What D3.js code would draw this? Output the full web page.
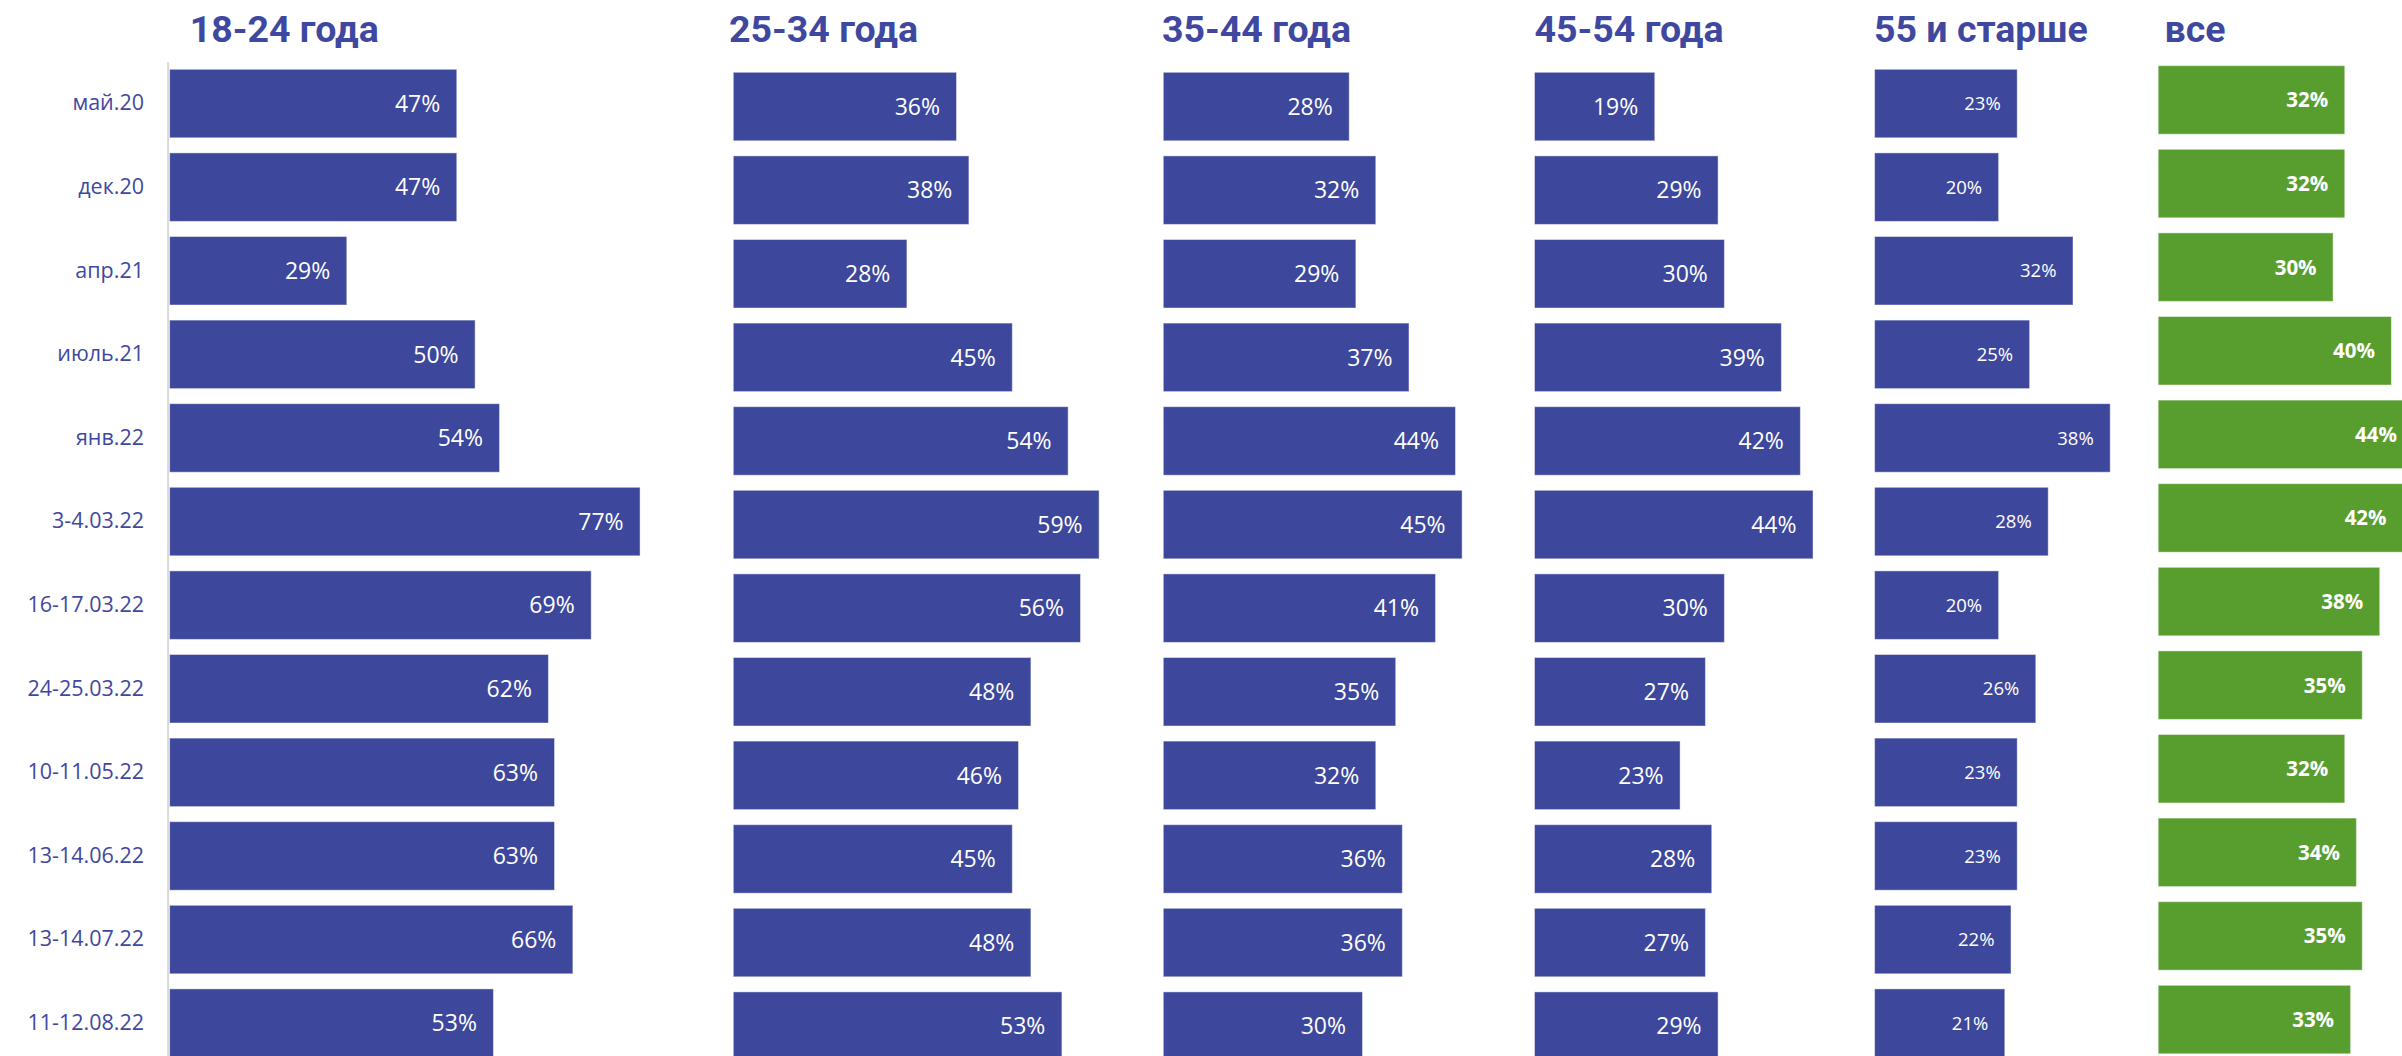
<!DOCTYPE html>
<html>
<head>
<meta charset="utf-8">
<script src="https://cdn.jsdelivr.net/npm/d3@7"></script>
<style>
  html, body { margin: 0; padding: 0; background: #ffffff; }
  svg { display: block; }
</style>
</head>
<body>
<svg id="chart" width="2402" height="1056"></svg>
<script>
// ---- DATA ----
const categories = ["май.20", "дек.20", "апр.21", "июль.21", "янв.22", "3-4.03.22",
  "16-17.03.22", "24-25.03.22", "10-11.05.22", "13-14.06.22", "13-14.07.22", "11-12.08.22"];
const groupTitles = ["18-24 года", "25-34 года", "35-44 года", "45-54 года", "55 и старше", "все"];
const age18_24 = [47, 47, 29, 50, 54, 77, 69, 62, 63, 63, 66, 53];
const age25_34 = [36, 38, 28, 45, 54, 59, 56, 48, 46, 45, 48, 53];
const age35_44 = [28, 32, 29, 37, 44, 45, 41, 35, 32, 36, 36, 30];
const age45_54 = [19, 29, 30, 39, 42, 44, 30, 27, 23, 28, 27, 29];
const age55plus = [23, 20, 32, 25, 38, 28, 20, 26, 23, 23, 22, 21];
const allAges = [32, 32, 30, 40, 44, 42, 38, 35, 32, 34, 35, 33];
const seriesValues = [age18_24, age25_34, age35_44, age45_54, age55plus, allAges];

// ---- LAYOUT (positions / sizes / styles) ----
const W = 2402, H = 1056;
const BLUE = "#3D479C", GREEN = "#589E2E";
const panels = [
  { left: 169.6, pxPerPct: 6.11, top: 69.3, titleX: 189.7, color: BLUE, fontSize: 23, bold: false },
  { left: 733.3, pxPerPct: 6.20, top: 72.3, titleX: 729,   color: BLUE, fontSize: 23, bold: false },
  { left: 1163.3, pxPerPct: 6.64, top: 72.3, titleX: 1162, color: BLUE, fontSize: 23, bold: false },
  { left: 1534.5, pxPerPct: 6.33, top: 72.3, titleX: 1534.5, color: BLUE, fontSize: 23, bold: false },
  { left: 1874.6, pxPerPct: 6.20, top: 69.3, titleX: 1874, color: BLUE, fontSize: 18.5, bold: false },
  { left: 2158.2, pxPerPct: 5.83, top: 65.7, titleX: 2164.5, color: GREEN, fontSize: 20.5, bold: true }
];
const pitch = 83.6, barH = 68.5;

const svg = d3.select("#chart");
svg.append("defs").append("clipPath").attr("id", "clipAll")
  .append("rect").attr("x", 0).attr("y", 0).attr("width", W).attr("height", H);

// Titles
panels.forEach((p, i) => {
  svg.append("text")
    .attr("x", p.titleX).attr("y", 41.7)
    .attr("font-family", "Roboto, 'Noto Sans', sans-serif")
    .attr("font-weight", 700)
    .attr("font-size", 37.5)
    .attr("fill", "#3F48A0")
    .text(groupTitles[i]);
});

// Panels
panels.forEach((p, i) => {
  const n = categories.length;
  const bandStart = p.top - (pitch - barH) / 2;
  const y = d3.scaleBand()
    .domain(categories)
    .range([bandStart, bandStart + pitch * n])
    .paddingInner((pitch - barH) / pitch)
    .paddingOuter((pitch - barH) / pitch / 2);
  const x = d3.scaleLinear().domain([0, 100]).range([p.left, p.left + 100 * p.pxPerPct]);

  const g = svg.append("g").attr("clip-path", "url(#clipAll)");
  const vals = seriesValues[i];
  const rows = categories.map((c, k) => ({ c, v: vals[k] }));

  g.selectAll("rect.bar").data(rows).join("rect")
    .attr("class", "bar")
    .attr("x", x(0))
    .attr("y", d => y(d.c))
    .attr("width", d => x(d.v) - x(0))
    .attr("height", y.bandwidth())
    .attr("fill", p.color)
    .attr("stroke", "rgba(255,255,255,0.45)")
    .attr("stroke-width", 1);

  g.selectAll("text.lbl").data(rows).join("text")
    .attr("class", "lbl")
    .attr("x", d => Math.min(x(d.v) - 16.5, W - 5))
    .attr("y", d => y(d.c) + y.bandwidth() / 2)
    .attr("dy", "0.36em")
    .attr("text-anchor", "end")
    .attr("font-family", "'Open Sans', 'Noto Sans', sans-serif")
    .attr("font-weight", p.bold ? 700 : 400)
    .attr("font-size", p.fontSize)
    .attr("fill", "#ffffff")
    .text(d => d.v + "%");

  if (i === 0) {
    // category axis
    const axis = d3.axisLeft(y).tickSize(0).tickPadding(0);
    const ag = svg.append("g").attr("transform", `translate(${p.left - 1.5},0)`).call(axis);
    ag.select(".domain").remove();
    ag.selectAll("text")
      .attr("x", 144 - (p.left - 1.5))
      .attr("font-family", "'Open Sans', 'Noto Sans', sans-serif")
      .attr("font-size", 21.5)
      .attr("fill", "#3F48A0");
    svg.append("line")
      .attr("x1", p.left - 1.5).attr("x2", p.left - 1.5)
      .attr("y1", 62).attr("y2", H)
      .attr("stroke", "#D9D9D9").attr("stroke-width", 2);
  }
});
</script>
</body>
</html>
